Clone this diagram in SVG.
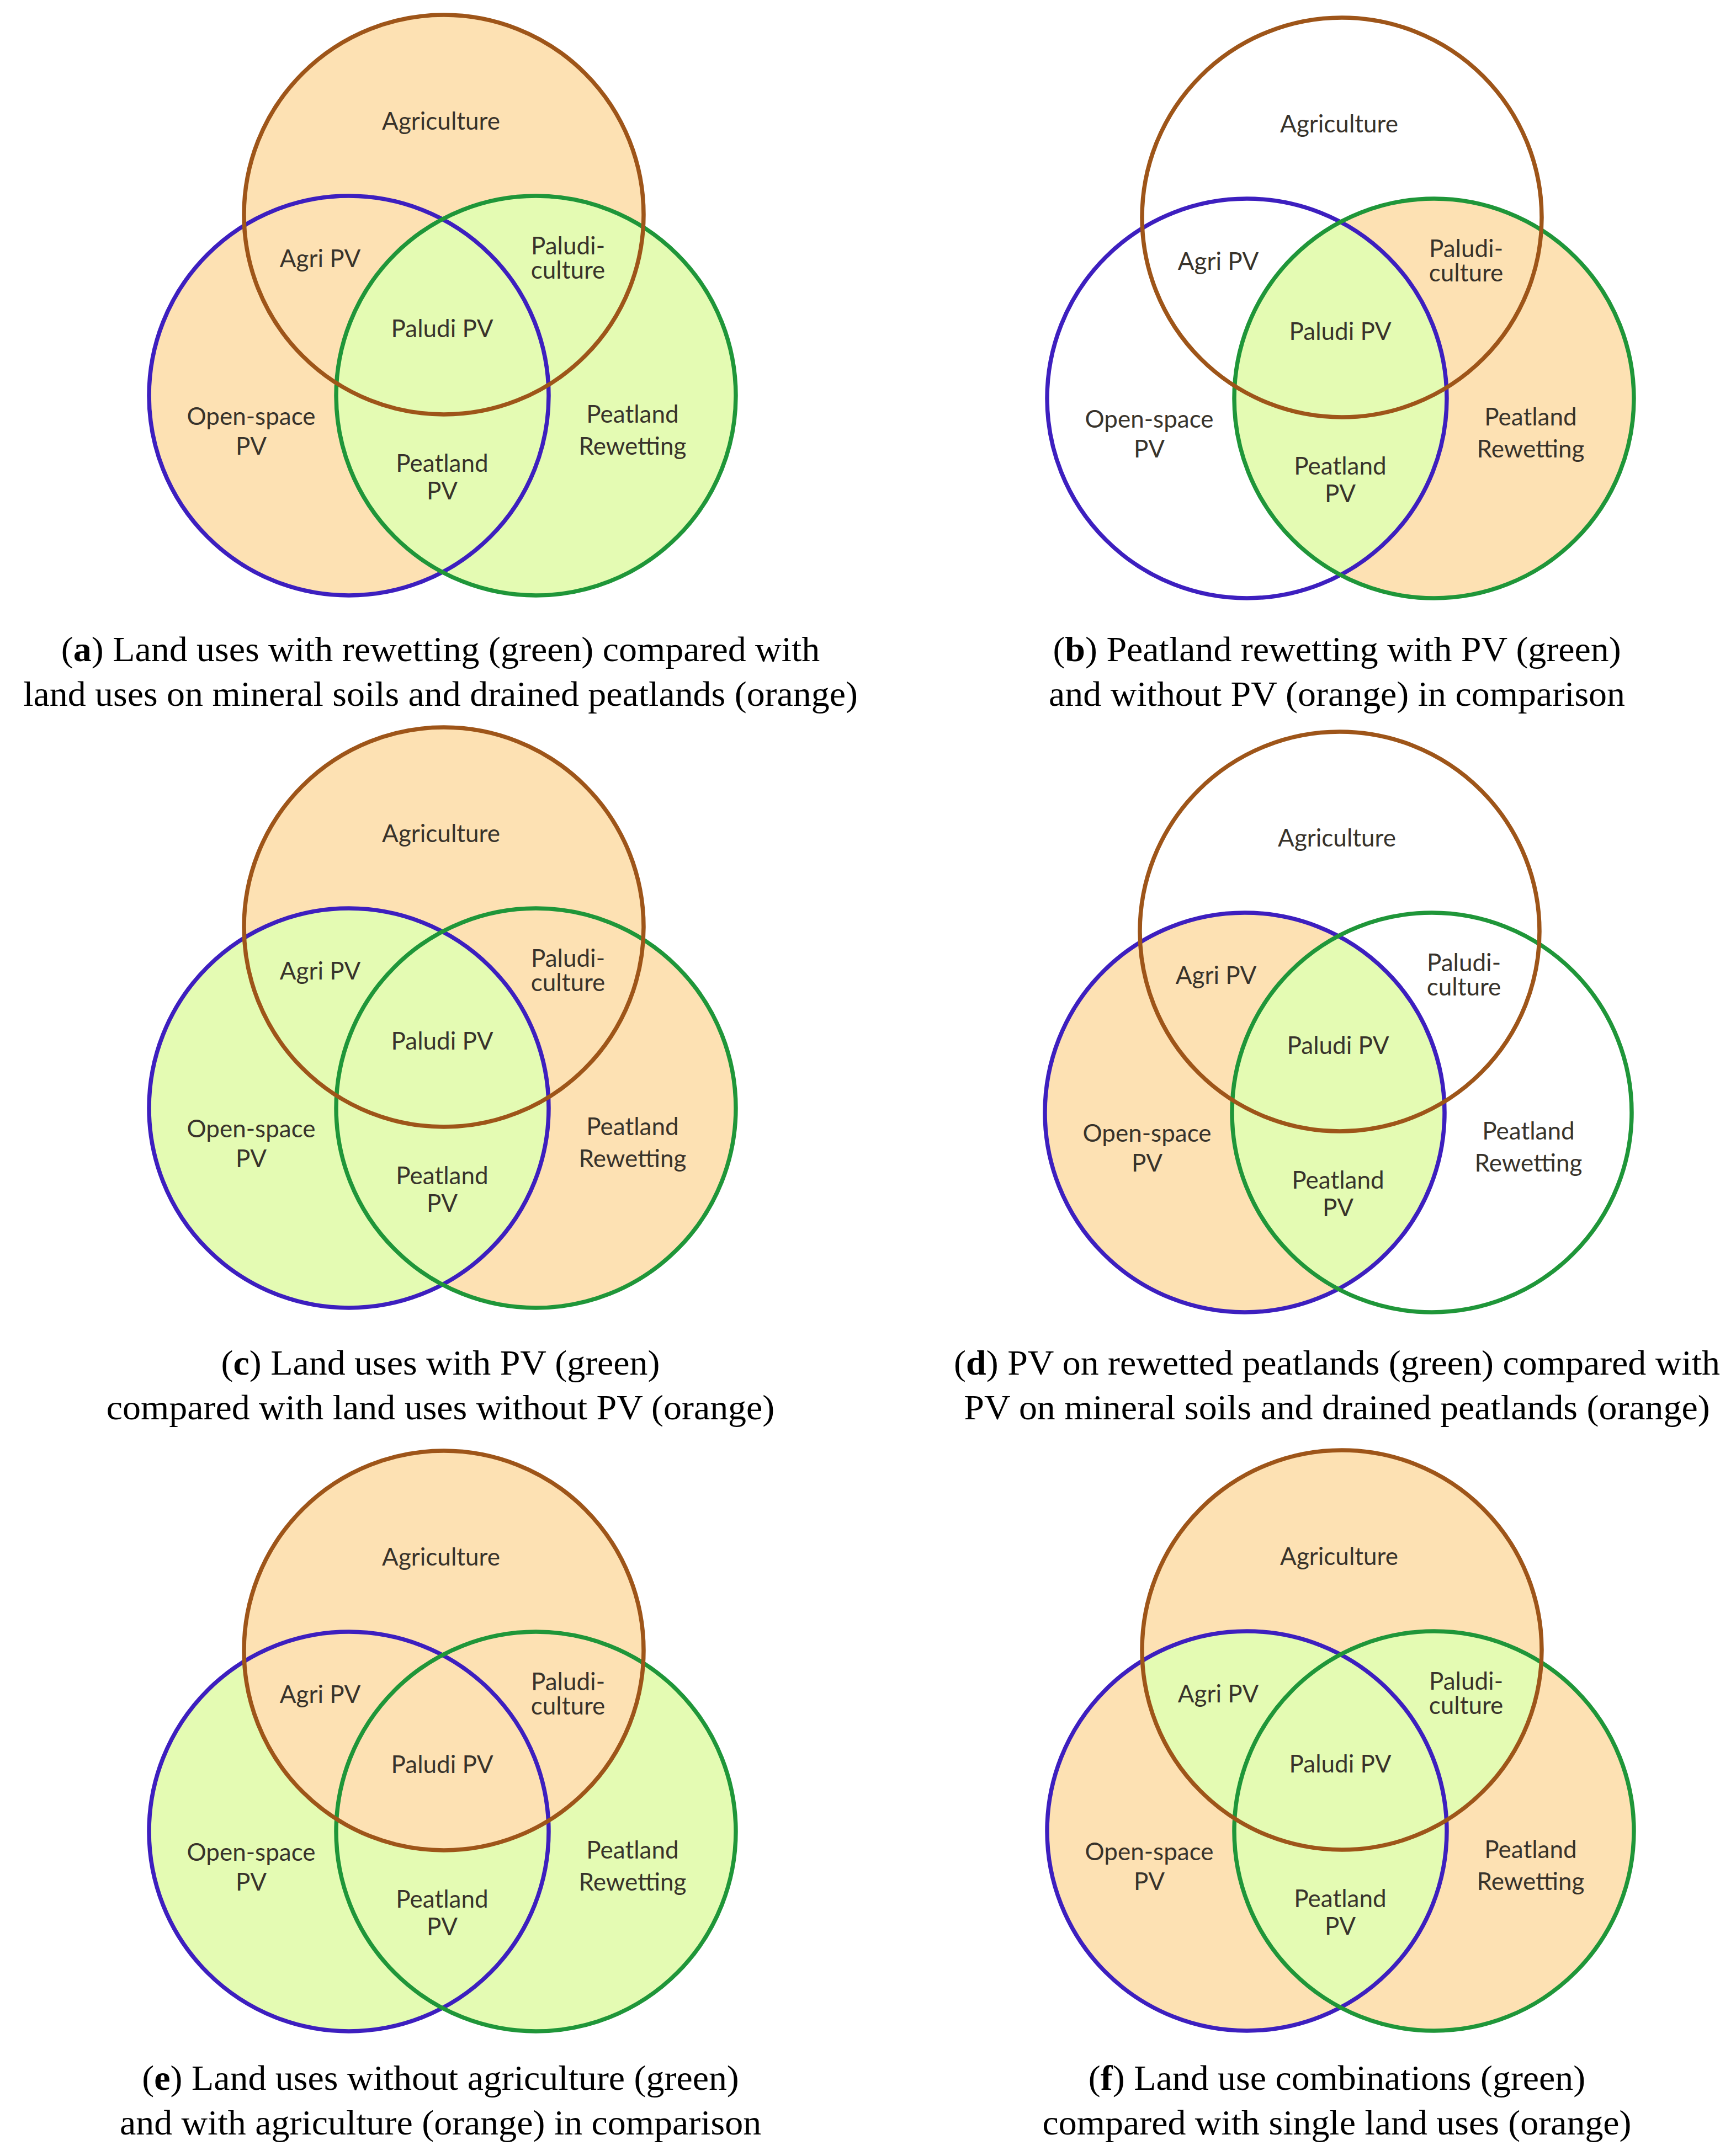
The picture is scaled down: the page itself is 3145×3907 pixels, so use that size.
<svg xmlns="http://www.w3.org/2000/svg" xmlns:xlink="http://www.w3.org/1999/xlink" width="3145" height="3907" viewBox="0 0 3145 3907">
<style>
.bg{fill:#ffffff}
.or{fill:#fde1b3}
.gr{fill:#e4fbb3}
.ring{fill:none;stroke-width:7.5}
.sA{stroke:#9e5519}
.sB{stroke:#3d1fbf}
.sC{stroke:#1f9639}
.lbl{font-family:Lato,"Noto Sans","DejaVu Sans",sans-serif;font-size:44px;fill:#38332b;text-anchor:middle}
.cap{font-family:"Liberation Serif","DejaVu Serif",serif;font-size:64px;fill:#000;text-anchor:middle}
</style>
<defs>
<circle id="cA" cx="0" cy="0" r="362"/>
<circle id="cB" cx="-172" cy="328" r="362"/>
<circle id="cC" cx="167" cy="328" r="362"/>
<clipPath id="clipA"><circle cx="0" cy="0" r="362"/></clipPath>
<clipPath id="clipB"><circle cx="-172" cy="328" r="362"/></clipPath>
<clipPath id="clipC"><circle cx="167" cy="328" r="362"/></clipPath>
<g id="rings">
<use xlink:href="#cB" class="ring sB"/>
<use xlink:href="#cC" class="ring sC"/>
<use xlink:href="#cA" class="ring sA"/>
</g>
<g id="labels">
<text class="lbl" x="-5" y="-154">Agriculture</text>
<text class="lbl" x="-224" y="95">Agri PV</text>
<text class="lbl" x="225" y="72">Paludi-</text>
<text class="lbl" x="225" y="116">culture</text>
<text class="lbl" x="-3" y="222">Paludi PV</text>
<text class="lbl" x="-349" y="381">Open-space</text>
<text class="lbl" x="-349" y="435">PV</text>
<text class="lbl" x="342" y="377">Peatland</text>
<text class="lbl" x="342" y="435">Rewetting</text>
<text class="lbl" x="-3" y="466">Peatland</text>
<text class="lbl" x="-3" y="516">PV</text>
</g>
</defs>
<rect class="bg" x="0" y="0" width="3145" height="3907"/>

<g id="panel-a" transform="translate(804,389)">
<use xlink:href="#cA" class="or"/>
<use xlink:href="#cB" class="or"/>
<use xlink:href="#cC" class="gr"/>
<use xlink:href="#rings"/>
<use xlink:href="#labels"/>
</g>

<g id="panel-b" transform="translate(2431,394)">
<use xlink:href="#cC" class="or"/>
<g clip-path="url(#clipC)"><use xlink:href="#cB" class="gr"/></g>
<use xlink:href="#rings"/>
<use xlink:href="#labels"/>
</g>

<g id="panel-c" transform="translate(804,1680)">
<use xlink:href="#cA" class="or"/>
<use xlink:href="#cC" class="or"/>
<use xlink:href="#cB" class="gr"/>
<use xlink:href="#rings"/>
<use xlink:href="#labels"/>
</g>

<g id="panel-d" transform="translate(2427,1688)">
<use xlink:href="#cB" class="or"/>
<g clip-path="url(#clipC)"><use xlink:href="#cB" class="gr"/></g>
<use xlink:href="#rings"/>
<use xlink:href="#labels"/>
</g>

<g id="panel-e" transform="translate(804,2991)">
<use xlink:href="#cB" class="gr"/>
<use xlink:href="#cC" class="gr"/>
<use xlink:href="#cA" class="or"/>
<use xlink:href="#rings"/>
<use xlink:href="#labels"/>
</g>

<g id="panel-f" transform="translate(2431,2990)">
<use xlink:href="#cA" class="or"/>
<use xlink:href="#cB" class="or"/>
<use xlink:href="#cC" class="or"/>
<g clip-path="url(#clipA)"><use xlink:href="#cB" class="gr"/><use xlink:href="#cC" class="gr"/></g>
<g clip-path="url(#clipB)"><use xlink:href="#cC" class="gr"/></g>
<use xlink:href="#rings"/>
<use xlink:href="#labels"/>
</g>

<g id="captions" transform="scale(1.03,1)">
<text class="cap" x="774.8" y="1198">(<tspan font-weight="bold">a</tspan>) Land uses with rewetting (green) compared with</text>
<text class="cap" x="774.8" y="1279">land uses on mineral soils and drained peatlands (orange)</text>
<text class="cap" x="2351.5" y="1198">(<tspan font-weight="bold">b</tspan>) Peatland rewetting with PV (green)</text>
<text class="cap" x="2351.5" y="1279">and without PV (orange) in comparison</text>
<text class="cap" x="774.8" y="2491">(<tspan font-weight="bold">c</tspan>) Land uses with PV (green)</text>
<text class="cap" x="774.8" y="2572">compared with land uses without PV (orange)</text>
<text class="cap" x="2351.5" y="2491">(<tspan font-weight="bold">d</tspan>) PV on rewetted peatlands (green) compared with</text>
<text class="cap" x="2351.5" y="2572">PV on mineral soils and drained peatlands (orange)</text>
<text class="cap" x="774.8" y="3787">(<tspan font-weight="bold">e</tspan>) Land uses without agriculture (green)</text>
<text class="cap" x="774.8" y="3868">and with agriculture (orange) in comparison</text>
<text class="cap" x="2351.5" y="3787">(<tspan font-weight="bold">f</tspan>) Land use combinations (green)</text>
<text class="cap" x="2351.5" y="3868">compared with single land uses (orange)</text>
</g>
</svg>
